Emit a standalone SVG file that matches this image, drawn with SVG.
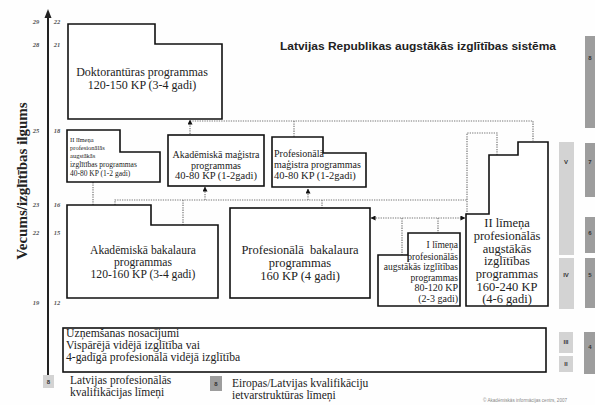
<svg xmlns="http://www.w3.org/2000/svg" width="595" height="405" viewBox="0 0 595 405">
  <style>
    .box { fill: #fff; stroke: #111; stroke-width: 1.6; stroke-linejoin: miter; }
    .t { font-family: "Liberation Serif", "Times New Roman", serif; fill: #222; }
    .c { text-anchor: middle; }
    .e { text-anchor: end; }
    .conn { fill: none; stroke: #777; stroke-width: 1.2; stroke-dasharray: 1.3 1.1; }
    .tick { font-family: "Liberation Serif", serif; font-size: 6.5px; font-weight: bold; font-style: italic; fill: #555; text-anchor: middle; }
    .lvl-dark { fill: #9d9d9d; }
    .lvl-light { fill: #d3d3d3; }
    .lvl-num { font-family: "Liberation Sans", Arial, sans-serif; font-size: 6px; font-weight: bold; fill: #333; text-anchor: middle; }
  </style>
  <defs>
    <marker id="arr" viewBox="0 0 6 6" refX="5.5" refY="3" markerWidth="5" markerHeight="5" orient="auto" markerUnits="userSpaceOnUse">
      <path d="M0,0 L6,3 L0,6 z" fill="#111"/>
    </marker>
    <marker id="arrStart" viewBox="0 0 6 6" refX="0.5" refY="3" markerWidth="5" markerHeight="5" orient="auto" markerUnits="userSpaceOnUse">
      <path d="M6,0 L0,3 L6,6 z" fill="#111"/>
    </marker>
  </defs>

  <rect width="595" height="405" fill="#fefefe"/>

  <!-- age / study-length axis -->
  <g id="axis">
    <line x1="48" y1="383" x2="48" y2="16" stroke="#222" stroke-width="2"/>
    <path d="M48,9 L44.5,18 L51.5,18 z" fill="#222"/>
    <text class="tick" x="36" y="24">29</text><text class="tick" x="57" y="24">22</text>
    <text class="tick" x="36" y="47">28</text><text class="tick" x="57" y="47">21</text>
    <text class="tick" x="36" y="133">25</text><text class="tick" x="57" y="133">18</text>
    <text class="tick" x="36" y="207">23</text><text class="tick" x="57" y="207">16</text>
    <text class="tick" x="36" y="235">22</text><text class="tick" x="57" y="235">15</text>
    <text class="tick" x="36" y="305">19</text><text class="tick" x="57" y="305">12</text>
    <text class="t c" x="0" y="0" transform="translate(27,181) rotate(-90)" font-size="15" font-weight="bold">Vecums/izglītības ilgums</text>
  </g>

  <text x="280" y="50" font-family="Liberation Sans, Arial, sans-serif" font-size="11" font-weight="bold" fill="#222" textLength="276" lengthAdjust="spacingAndGlyphs">Latvijas Republikas augstākās izglītības sistēma</text>

  <!-- connectors -->
  <g id="connectors">
    <path class="conn" d="M190,121 H533 V141"/>
    <path class="conn" d="M190,134 V120" marker-end="url(#arr)"/>
    <path class="conn" d="M294,121 V137"/>
    <path class="conn" d="M93,205 V182"/>
    <path class="conn" d="M115,205 V200 H467"/>
    <path class="conn" d="M205,200 V187" marker-end="url(#arr)"/>
    <path class="conn" d="M183,200 V225"/>
    <path class="conn" d="M308,200 V189" marker-end="url(#arr)"/>
    <path class="conn" d="M322,200 V208"/>
    <path class="conn" d="M497,155 V133 H467 V214"/>
    <path class="conn" d="M371,218 H465" marker-start="url(#arrStart)" marker-end="url(#arr)"/>
    <path class="conn" d="M402,218 V255"/>
    <path class="conn" d="M438,218 V233"/>
  </g>

  <!-- doctoral studies -->
  <g id="doktorantura">
    <path class="box" d="M68,24 H155 V44 H222 V119 H68 Z"/>
    <text class="t c" x="142" y="75.5" font-size="12">Doktorantūras programmas</text>
    <text class="t c" x="142" y="88.5" font-size="12">120-150 KP (3-4 gadi)</text>
  </g>

  <!-- master level -->
  <g id="ii-limena-40-80">
    <path class="box" d="M67,130 H120 V152 H160 V182 H67 Z"/>
    <text class="t" x="70" y="142" font-size="6.5">II līmeņa</text>
    <text class="t" x="70" y="150" font-size="6.5">profesionālās</text>
    <text class="t" x="70" y="158" font-size="6.5">augstākās</text>
    <text class="t" x="70" y="167" font-size="7.5">izglītības programmas</text>
    <text class="t" x="70" y="176" font-size="7.5">40-80 KP (1-2 gadi)</text>
  </g>

  <g id="akademiska-magistra">
    <rect class="box" x="168" y="135" width="96" height="51"/>
    <text class="t c" x="216" y="157.5" font-size="10">Akadēmiskā maģistra</text>
    <text class="t c" x="216" y="168.5" font-size="10">programmas</text>
    <text class="t c" x="216" y="179" font-size="10.5">40-80 KP (1-2gadi)</text>
  </g>

  <g id="profesionala-magistra">
    <path class="box" d="M272,137 H323 V153 H366 V187 H272 Z"/>
    <text class="t" x="274" y="156.5" font-size="10">Profesionālā</text>
    <text class="t" x="274" y="168" font-size="10">maģistra programmas</text>
    <text class="t" x="274" y="179" font-size="10.5">40-80 KP (1-2gadi)</text>
  </g>

  <!-- bachelor level -->
  <g id="akademiska-bakalaura">
    <path class="box" d="M67,205 H151 V225 H218 V298 H67 Z"/>
    <text class="t c" x="143" y="254" font-size="11.6">Akadēmiskā bakalaura</text>
    <text class="t c" x="143" y="265.5" font-size="11.6">programmas</text>
    <text class="t c" x="143" y="277.5" font-size="11.6">120-160 KP (3-4 gadi)</text>
  </g>

  <g id="profesionala-bakalaura">
    <rect class="box" x="230" y="208" width="140" height="90"/>
    <text class="t c" x="300" y="254" font-size="12.5" word-spacing="3">Profesionālā bakalaura</text>
    <text class="t c" x="300" y="267" font-size="12.5">programmas</text>
    <text class="t c" x="300" y="280" font-size="12.5">160 KP (4 gadi)</text>
  </g>

  <g id="i-limena">
    <path class="box" d="M378,255 H408 V233 H460 V306 H378 Z"/>
    <line x1="408" y1="255" x2="408" y2="262" stroke="#111" stroke-width="1"/>
    <text class="t e" x="458" y="248" font-size="9.5">I līmeņa</text>
    <text class="t e" x="458" y="259.5" font-size="9.5">profesionālās</text>
    <text class="t e" x="458" y="270" font-size="9.5">augstākās izglītības</text>
    <text class="t e" x="458" y="280.5" font-size="9.5">programmas</text>
    <text class="t e" x="458" y="291" font-size="10">80-120 KP</text>
    <text class="t e" x="458" y="301.5" font-size="10">(2-3 gadi)</text>
  </g>

  <g id="ii-limena-160-240">
    <path class="box" d="M466,214 H489 V155 H518 V142 H548 V306 H466 Z"/>
    <text class="t c" x="507" y="227" font-size="12.5">II līmeņa</text>
    <text class="t c" x="507" y="240" font-size="12.5">profesionālās</text>
    <text class="t c" x="507" y="252.5" font-size="12.5">augstākās</text>
    <text class="t c" x="507" y="265" font-size="12.5">izglītības</text>
    <text class="t c" x="507" y="278" font-size="12.5">programmas</text>
    <text class="t c" x="507" y="290.5" font-size="12.5">160-240 KP</text>
    <text class="t c" x="507" y="303" font-size="12.5">(4-6 gadi)</text>
  </g>

  <!-- admission requirements -->
  <g id="uznemsana">
    <rect class="box" x="63" y="328" width="483" height="44"/>
    <text class="t" x="66" y="337" font-size="11.7">Uzņemšanas nosacījumi</text>
    <text class="t" x="66" y="348.7" font-size="11.7">Vispārējā vidējā izglītība vai</text>
    <text class="t" x="66" y="360.5" font-size="11.7">4-gadīgā profesionālā vidējā izglītība</text>
  </g>

  <!-- qualification level columns -->
  <g id="limeni">
    <rect class="lvl-dark" x="585" y="36" width="10" height="92"/>
    <text class="lvl-num" x="590" y="60">8</text>
    <rect class="lvl-light" x="559" y="142" width="15" height="113"/>
    <text class="lvl-num" x="566" y="164">V</text>
    <rect class="lvl-light" x="559" y="258" width="15" height="51"/>
    <text class="lvl-num" x="566" y="277">IV</text>
    <rect class="lvl-dark" x="585" y="143" width="10" height="54"/>
    <text class="lvl-num" x="590" y="164">7</text>
    <rect class="lvl-dark" x="585" y="217" width="10" height="36"/>
    <text class="lvl-num" x="590" y="235">6</text>
    <rect class="lvl-dark" x="585" y="258" width="10" height="50"/>
    <text class="lvl-num" x="590" y="277">5</text>
    <rect class="lvl-light" x="559" y="332" width="14" height="21"/>
    <text class="lvl-num" x="566" y="344">III</text>
    <rect class="lvl-light" x="559" y="356" width="14" height="16"/>
    <text class="lvl-num" x="566" y="366">II</text>
    <rect class="lvl-dark" x="584" y="332" width="11" height="42"/>
    <text class="lvl-num" x="590" y="349">4</text>
  </g>

  <!-- legend -->
  <g id="legenda">
    <rect class="lvl-light" x="43" y="375" width="11" height="13"/>
    <text class="lvl-num" x="48.5" y="384">8</text>
    <text class="t" x="70" y="383.5" font-size="11.5">Latvijas profesionālās</text>
    <text class="t" x="70" y="396" font-size="11.5">kvalifikācijas līmeņi</text>
    <rect class="lvl-dark" x="210" y="376" width="12" height="15"/>
    <text class="lvl-num" x="216" y="386">8</text>
    <text class="t" x="232" y="386.5" font-size="11.5">Eiropas/Latvijas kvalifikāciju</text>
    <text class="t" x="232" y="399" font-size="11.5">ietvarstruktūras līmeņi</text>
    <text x="483" y="401.5" font-family="Liberation Sans, Arial, sans-serif" font-size="4.6" fill="#888">© Akadēmiskās informācijas centrs, 2007</text>
  </g>
</svg>
